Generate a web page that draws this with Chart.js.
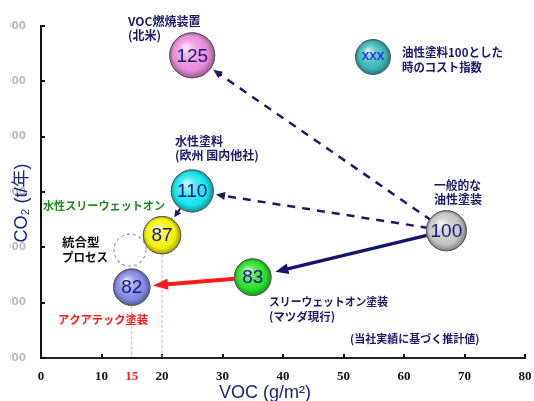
<!DOCTYPE html>
<html lang="ja">
<head>
<meta charset="utf-8">
<script src="https://cdn.jsdelivr.net/npm/chart.js@4/dist/chart.umd.min.js"></script>
<style>
  html, body { margin: 0; padding: 0; background: #fff; }
  #wrap { width: 534px; height: 401px; position: relative; }
</style>
</head>
<body>
<div id="wrap"><canvas id="c" width="534" height="401"></canvas></div>
<script>
// Painting processes: VOC emission vs CO2 emission, bubble label = cost index (oil-based = 100)
const categories = ['VOC燃焼装置(北米)', '水性塗料(欧州 国内他社)', '一般的な油性塗装', '水性スリーウェットオン', 'スリーウェットオン塗装(マツダ現行)', 'アクアテック塗装'];
const vocValues = [25, 25, 67, 20, 35, 15];
const co2Values = [6470, 4020, 3300, 3220, 2460, 2280];
const costIndex = [125, 110, 100, 87, 83, 82];
const xTickValues = [0, 10, 15, 20, 30, 40, 50, 60, 70, 80];
const yTickValues = [1000, 2000, 3000, 4000, 5000, 6000, 7000];
const integratedProcess = { voc: 14.7, co2: 2950 };

// transitions between processes (indices into the arrays above)
const transitions = [
  { from: 2, to: 0, kind: 'dashed' },
  { from: 2, to: 1, kind: 'dashed' },
  { from: 2, to: 4, kind: 'solid' },
  { from: 4, to: 5, kind: 'red' },
  { from: 1, to: 3, kind: 'small' }
];

const bubbleColors = ['#e88ad8', '#14e4ec', '#c4c4c4', '#f2f200', '#26e026', '#8088e2'];
const NAVY = '#1a1a66';

function shade(hex, amt) {
  const n = parseInt(hex.slice(1), 16);
  let r = (n >> 16) & 255, g = (n >> 8) & 255, b = n & 255;
  if (amt >= 0) { r += (255 - r) * amt; g += (255 - g) * amt; b += (255 - b) * amt; }
  else { r *= 1 + amt; g *= 1 + amt; b *= 1 + amt; }
  return 'rgb(' + Math.round(r) + ',' + Math.round(g) + ',' + Math.round(b) + ')';
}

function sphereGradient(ctx, x, y, r, color) {
  if (![x, y, r].every(Number.isFinite) || r <= 0) return color;
  const g = ctx.createRadialGradient(x - r * 0.3, y - r * 0.38, r * 0.05, x, y, r * 1.02);
  g.addColorStop(0, shade(color, 0.75));
  g.addColorStop(0.35, shade(color, 0.25));
  g.addColorStop(0.75, color);
  g.addColorStop(1, shade(color, -0.35));
  return g;
}

function bubbleRadius(cost) { return 10 + cost * 0.1; }

function drawArrow(ctx, x0, y0, x1, y1, opt) {
  const dx = x1 - x0, dy = y1 - y0, len = Math.hypot(dx, dy);
  const ux = dx / len, uy = dy / len;
  ctx.save();
  ctx.strokeStyle = opt.color;
  ctx.fillStyle = opt.color;
  ctx.lineWidth = opt.width;
  ctx.setLineDash(opt.dash || []);
  ctx.beginPath();
  ctx.moveTo(x0, y0);
  ctx.lineTo(x1 - ux * opt.head * 0.8, y1 - uy * opt.head * 0.8);
  ctx.stroke();
  ctx.setLineDash([]);
  const bx = x1 - ux * opt.head, by = y1 - uy * opt.head;
  ctx.beginPath();
  ctx.moveTo(x1, y1);
  ctx.lineTo(bx - uy * opt.headW / 2, by + ux * opt.headW / 2);
  ctx.lineTo(bx + uy * opt.headW / 2, by - ux * opt.headW / 2);
  ctx.closePath();
  ctx.fill();
  ctx.restore();
}

function drawLines(ctx, lines, x, y, lh, font, color, widths) {
  ctx.save();
  ctx.font = font;
  ctx.fillStyle = color;
  ctx.textAlign = 'left';
  ctx.textBaseline = 'middle';
  lines.forEach((t, i) => ctx.fillText(t, x, y + i * lh, widths ? widths[i] : undefined));
  ctx.restore();
}

const JP = '"Noto Sans CJK JP", "Noto Sans", sans-serif';

const arrowStyles = {
  dashed: { color: NAVY, width: 2.5, dash: [8, 7], head: 9, headW: 8, gap0: -2, gap1: 3 },
  solid:  { color: '#14146e', width: 3.5, head: 13, headW: 11, gap0: 0, gap1: 5 },
  red:    { color: '#ff1a1a', width: 4, head: 15, headW: 11, gap0: 0, gap1: 3 },
  small:  { color: NAVY, width: 2, head: 7, headW: 7, gap0: 0, gap1: 3 }
};

const decor = {
  id: 'decor',
  beforeDraw(chart) {
    // keep the y tick labels inside a band left of the axis
    const ctx = chart.ctx;
    ctx.save();
    ctx.beginPath();
    ctx.rect(10, 0, chart.width - 10, chart.height);
    ctx.clip();
  },
  beforeDatasetsDraw(chart) {
    const ctx = chart.ctx;
    ctx.restore();
    const xs = chart.scales.x, ys = chart.scales.y;
    const area = chart.chartArea;

    // inward tick marks
    ctx.save();
    ctx.strokeStyle = '#111';
    ctx.lineWidth = 2;
    xTickValues.filter(v => v % 10 === 0 && v > 0).forEach(v => {
      const px = Math.round(xs.getPixelForValue(v));
      ctx.beginPath(); ctx.moveTo(px, area.bottom); ctx.lineTo(px, area.bottom - 4); ctx.stroke();
    });
    yTickValues.forEach(v => {
      const py = Math.round(ys.getPixelForValue(v));
      ctx.beginPath(); ctx.moveTo(area.left, py); ctx.lineTo(area.left + 4, py); ctx.stroke();
    });
    ctx.restore();

    const pts = chart.getDatasetMeta(0).data;
    const radii = costIndex.map(bubbleRadius);

    // drop lines to the x axis for the two water-borne three-wet points
    ctx.save();
    ctx.strokeStyle = '#e6a8a8';
    ctx.lineWidth = 1;
    ctx.setLineDash([3, 2]);
    [3, 5].forEach(i => {
      const p = pts[i];
      ctx.beginPath(); ctx.moveTo(p.x, p.y + radii[i] + 1); ctx.lineTo(p.x, area.bottom - 1); ctx.stroke();
    });
    ctx.restore();

    // integrated process (no value): dashed outline
    ctx.save();
    ctx.strokeStyle = '#9a9a9a';
    ctx.lineWidth = 1.2;
    ctx.setLineDash([3, 3]);
    ctx.beginPath();
    ctx.arc(xs.getPixelForValue(integratedProcess.voc), ys.getPixelForValue(integratedProcess.co2), 16, 0, Math.PI * 2);
    ctx.stroke();
    ctx.restore();

    // arrows
    transitions.forEach(t => {
      const a = pts[t.from], b = pts[t.to];
      const st = arrowStyles[t.kind];
      const dx = b.x - a.x, dy = b.y - a.y, len = Math.hypot(dx, dy);
      const ux = dx / len, uy = dy / len;
      const r0 = radii[t.from] + st.gap0, r1 = radii[t.to] + st.gap1;
      drawArrow(ctx, a.x + ux * r0, a.y + uy * r0, b.x - ux * r1, b.y - uy * r1, st);
    });
  },
  afterDatasetsDraw(chart) {
    const ctx = chart.ctx;
    const pts = chart.getDatasetMeta(0).data;
    const radii = costIndex.map(bubbleRadius);
    // sphere shading on top of each bubble
    pts.forEach((p, i) => {
      ctx.save();
      ctx.beginPath();
      ctx.arc(p.x, p.y, radii[i], 0, Math.PI * 2);
      ctx.fillStyle = sphereGradient(ctx, p.x, p.y, radii[i], bubbleColors[i]);
      ctx.fill();
      ctx.strokeStyle = '#5a5a5a';
      ctx.lineWidth = 1;
      ctx.stroke();
      ctx.restore();
    });
    ctx.save();
    ctx.font = '19px "Liberation Sans", Arial, sans-serif';
    ctx.fillStyle = '#16167e';
    ctx.textAlign = 'center';
    ctx.textBaseline = 'middle';
    pts.forEach((p, i) => ctx.fillText(String(costIndex[i]), p.x, p.y + 1));
    ctx.restore();
  },
  afterDraw(chart) {
    const ctx = chart.ctx;

    // key bubble
    const kx = 373, ky = 57, kr = 17.5;
    ctx.save();
    ctx.beginPath();
    ctx.arc(kx, ky, kr, 0, Math.PI * 2);
    ctx.fillStyle = sphereGradient(ctx, kx, ky, kr, '#38b4b4');
    ctx.fill();
    ctx.strokeStyle = '#555';
    ctx.lineWidth = 1;
    ctx.stroke();
    ctx.font = '15px "Liberation Sans", Arial, sans-serif';
    ctx.fillStyle = '#1414ff';
    ctx.textAlign = 'center';
    ctx.textBaseline = 'middle';
    ctx.fillText('xxx', kx, ky - 1);
    ctx.restore();

    const f12 = 'bold 12px ' + JP;
    const f11 = 'bold 11.5px ' + JP;
    drawLines(ctx, ['油性塗料100とした', '時のコスト指数'], 402, 52, 15, f12, NAVY, [101, 80]);
    drawLines(ctx, ['VOC燃焼装置', '(北米)'], 128, 21, 14, f12, NAVY, [80, 34]);
    drawLines(ctx, ['水性塗料', '(欧州 国内他社)'], 175, 141, 14.5, f12, NAVY, [48, 90]);
    drawLines(ctx, ['水性スリーウェットオン'], 43, 206, 14, f11, '#1f8a1f', [122]);
    drawLines(ctx, ['統合型', 'プロセス'], 62, 242, 15.5, 'bold 12.5px ' + JP, '#111', [38, 46]);
    drawLines(ctx, ['アクアテック塗装'], 58, 320, 14, f11, '#ff1a1a', [90]);
    drawLines(ctx, ['一般的な', '油性塗装'], 434, 185, 14.5, f12, NAVY, [47, 51]);
    drawLines(ctx, ['スリーウェットオン塗装', '(マツダ現行)'], 269, 302, 15, f11, NAVY, [119, 69]);
    drawLines(ctx, ['(当社実績に基づく推計値)'], 350, 339, 14, 'bold 11px ' + JP, NAVY, [143]);

    // axis titles
    ctx.save();
    ctx.font = '18px "Liberation Sans", ' + JP;
    ctx.fillStyle = '#1a2680';
    ctx.textAlign = 'center';
    ctx.textBaseline = 'middle';
    ctx.fillText('VOC (g/m²)', 265, 393, 96);
    ctx.translate(22, 203);
    ctx.rotate(-Math.PI / 2);
    ctx.fillText('CO₂ (t/年)', 0, 0, 100);
    ctx.restore();
  }
};

new Chart(document.getElementById('c'), {
  type: 'bubble',
  data: {
    labels: categories,
    datasets: [{
      label: 'コスト指数',
      data: vocValues.map((v, i) => ({ x: v, y: co2Values[i], r: bubbleRadius(costIndex[i]) })),
      clip: false,
      borderColor: '#5a5a5a',
      borderWidth: 1,
      backgroundColor: bubbleColors
    }]
  },
  options: {
    responsive: false,
    animation: false,
    events: [],
    layout: { autoPadding: false, padding: { top: 26, right: 9, left: 0, bottom: 0 } },
    plugins: { legend: { display: false }, tooltip: { enabled: false } },
    scales: {
      x: {
        type: 'linear',
        min: 0, max: 80,
        afterBuildTicks(scale) { scale.ticks = xTickValues.map(v => ({ value: v })); },
        afterFit(scale) { scale.height = 43; scale.paddingLeft = 0; scale.paddingRight = 0; },
        grid: { drawOnChartArea: false, drawTicks: false },
        border: { display: true, color: '#222', width: 2 },
        ticks: {
          autoSkip: false, maxRotation: 0, padding: 11,
          font: { family: '"Liberation Serif", serif', weight: 'bold', size: 13 },
          color: c => (c.tick && c.tick.value === 15 ? '#ff1a1a' : '#111'),
          callback: v => String(v)
        }
      },
      y: {
        type: 'linear',
        min: 1000, max: 7000,
        afterBuildTicks(scale) { scale.ticks = yTickValues.map(v => ({ value: v })); },
        afterFit(scale) { scale.width = 41; scale.paddingTop = 0; scale.paddingBottom = 0; },
        grid: { drawOnChartArea: false, drawTicks: false },
        border: { display: true, color: '#111', width: 2 },
        ticks: {
          padding: 15,
          font: { family: '"DejaVu Sans", sans-serif', weight: 'bold', size: 10.5 },
          color: '#bcbcbc',
          callback: v => String(v)
        }
      }
    }
  },
  plugins: [decor]
});
</script>
</body>
</html>
